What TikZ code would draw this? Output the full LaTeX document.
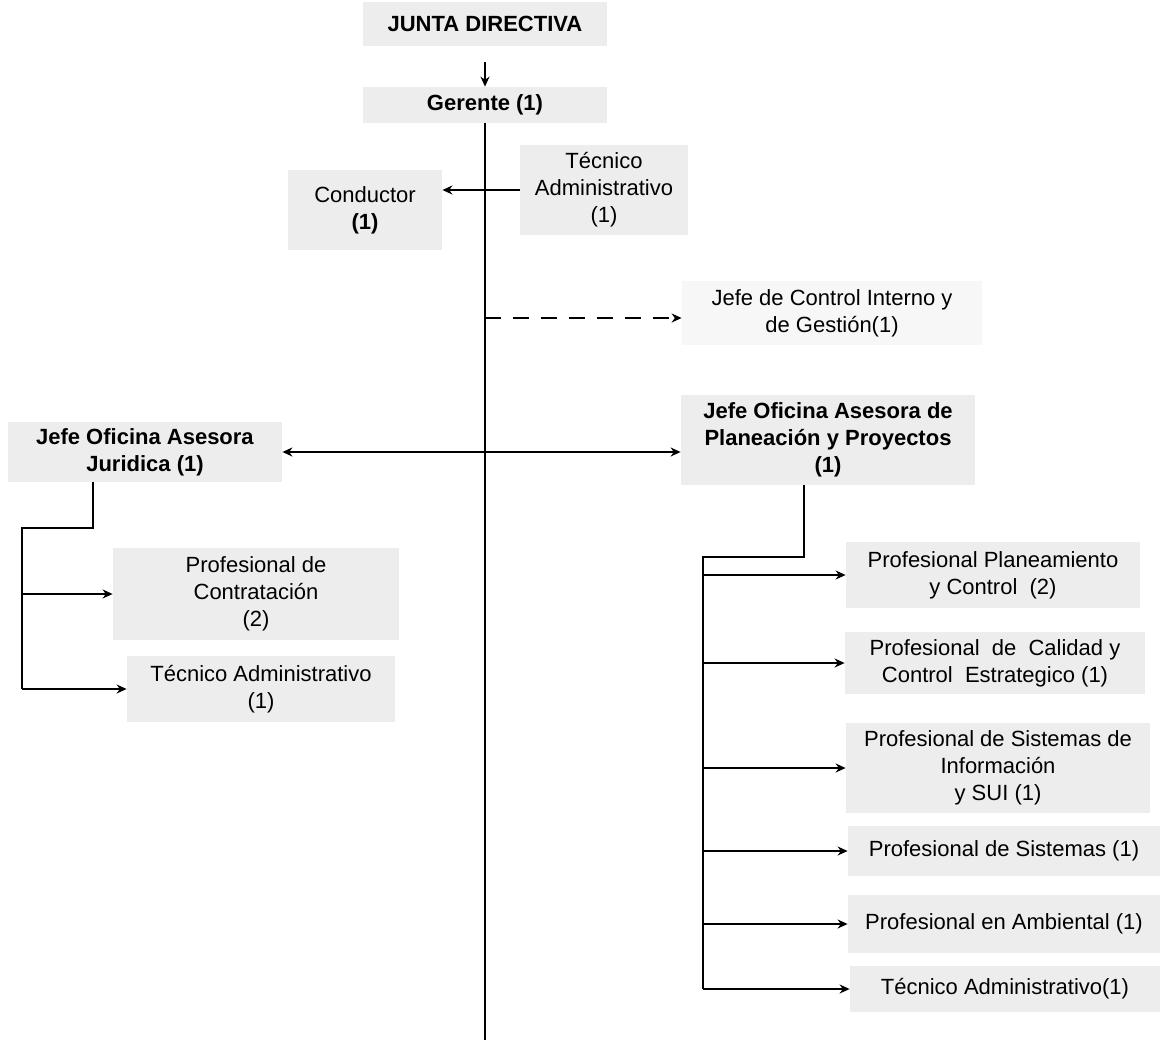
\documentclass[tikz,border=0pt]{standalone}
\usepackage{fontspec}
\setmainfont{Liberation Sans}
\usetikzlibrary{calc,arrows.meta}

\begin{document}
\begin{tikzpicture}[x=0.5pt,y=-0.5pt, >={Stealth[length=5pt,width=4.5pt]},
    cargo/.style={fill=black!7, inner sep=1pt, align=center, font=\fontsize{11}{13.5}\selectfont},
    linea/.style={line width=0.8pt}]

\useasboundingbox (0,0) rectangle (1161,1044);

\node[cargo, minimum width=122pt, minimum height=22pt] (junta) at (485,24) {\textbf{JUNTA DIRECTIVA}};
\node[cargo, minimum width=122pt, minimum height=18pt] (gerente) at (485,105) {\textbf{Gerente (1)}};
\node[cargo, minimum width=77pt, minimum height=40pt] (conductor) at (365,210) {Conductor\\ \textbf{(1)}};
\node[cargo, minimum width=84pt, minimum height=45pt] (tecadm) at (604,190) {Técnico\\ Administrativo\\ (1)};
\node[cargo, fill=black!3, minimum width=150pt, minimum height=32pt] (control) at (832,313) {Jefe de Control Interno y\\ de Gestión(1)};
\node[cargo, minimum width=137pt, minimum height=30pt] (juridica) at (145,452) {\textbf{Jefe Oficina Asesora}\\ \textbf{Juridica (1)}};
\node[cargo, minimum width=147pt, minimum height=45pt] (planeacion) at (828,440) {\textbf{Jefe Oficina Asesora de}\\ \textbf{Planeación y Proyectos}\\ \textbf{(1)}};
\node[cargo, minimum width=143pt, minimum height=46pt] (contratacion) at (256,594) {Profesional de\\ Contratación\\ (2)};
\node[cargo, minimum width=134pt, minimum height=33pt] (tecjur) at (261,689) {Técnico Administrativo\\ (1)};
\node[cargo, minimum width=147pt, minimum height=33pt] (pla1) at (993,575) {Profesional Planeamiento\\ y Control\ \ (2)};
\node[cargo, minimum width=150pt, minimum height=31pt] (pla2) at (995,663) {Profesional\ \ de\ \ Calidad y\\ Control\ \ Estrategico (1)};
\node[cargo, minimum width=152pt, minimum height=45pt] (pla3) at (998,768) {Profesional de Sistemas de\\ Información\\ y SUI (1)};
\node[cargo, minimum width=156pt, minimum height=25pt] (pla4) at (1004,851) {Profesional de Sistemas (1)};
\node[cargo, minimum width=156pt, minimum height=29pt] (pla5) at (1004,924) {Profesional en Ambiental (1)};
\node[cargo, minimum width=155pt, minimum height=23pt] (pla6) at (1005,989) {Técnico Administrativo(1)};

\coordinate (tbot) at (485,1040);
\coordinate (tdash) at (485,318);
\coordinate (jt) at (22,528);
\coordinate (jb) at (22,689);
\coordinate (pt) at (703,557);
\coordinate (pb) at (703,989);

\draw[linea,->] ([yshift=-8pt]junta.south) -- (gerente.north);
\draw[linea] (gerente.south) -- (tbot);
\draw[linea,->] (tecadm.west) -- (tecadm.west -| conductor.east);
\draw[linea,dash pattern=on 8pt off 6pt,->] (tdash) -- (tdash -| control.west);
\draw[linea,<->] (juridica.east) -- (juridica.east -| planeacion.west);

\draw[linea] ([xshift=-26pt]juridica.south) |- (jt) -- (jb);
\draw[linea,->] (jt |- contratacion) -- (contratacion.west);
\draw[linea,->] (jb) -- (tecjur.west);

\draw[linea] ([xshift=-12pt]planeacion.south) |- (pt) -- (pb);
\foreach \n in {pla1,pla2,pla3,pla4,pla5,pla6}
    \draw[linea,->] (pt |- \n) -- (\n.west);

\end{tikzpicture}
\end{document}
